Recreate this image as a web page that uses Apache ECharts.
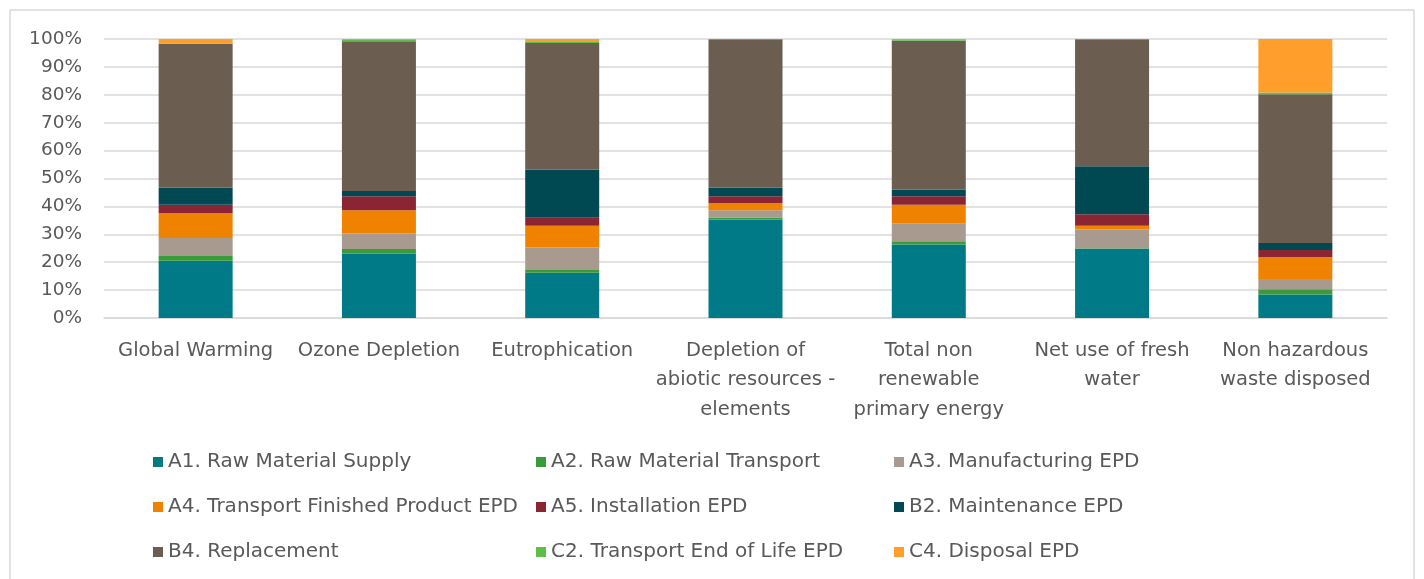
<!DOCTYPE html>
<html>
<head>
<meta charset="utf-8">
<script src="https://cdn.jsdelivr.net/npm/echarts@6/dist/echarts.min.js"></script>
<style>
  html, body { margin: 0; padding: 0; background: #fff; }
  #chart { width: 1424px; height: 579px; }
</style>
</head>
<body>
<div id="chart"></div>
<script>
// categories (wrapped as in the original)
const categories = [
    'Global Warming',
    'Ozone Depletion',
    'Eutrophication',
    'Depletion of\nabiotic resources -\nelements',
    'Total non\nrenewable\nprimary energy',
    'Net use of fresh\nwater',
    'Non hazardous\nwaste disposed'
];

// share of each stage, in %
const a1 = [20.5, 23.0, 16.2, 35.3, 26.3, 24.8, 8.4];
const a2 = [1.7, 1.7, 1.0, 0.6, 1.2, 0.2, 1.9];
const a3 = [6.5, 5.6, 8.1, 2.7, 6.5, 6.7, 3.7];
const a4 = [8.9, 8.3, 7.8, 2.6, 6.6, 1.4, 7.8];
const a5 = [3.0, 5.0, 2.8, 2.4, 3.0, 4.1, 2.6];
const b2 = [6.1, 1.9, 17.2, 3.1, 2.4, 17.2, 2.5];
const b4 = [51.6, 53.7, 45.5, 53.2, 53.4, 45.5, 53.3];
const c2 = [0.0, 0.7, 0.3, 0.0, 0.5, 0.0, 0.6];
const c4 = [1.7, 0.1, 1.1, 0.1, 0.1, 0.1, 19.2];

const yTicks = [0, 10, 20, 30, 40, 50, 60, 70, 80, 90, 100];

const seriesDefs = [
    { name: 'A1. Raw Material Supply', data: a1, color: '#007a87' },
    { name: 'A2. Raw Material Transport', data: a2, color: '#3a9b3a' },
    { name: 'A3. Manufacturing EPD', data: a3, color: '#a89a8e' },
    { name: 'A4. Transport Finished Product EPD', data: a4, color: '#ef8300' },
    { name: 'A5. Installation EPD', data: a5, color: '#8b2534' },
    { name: 'B2. Maintenance EPD', data: b2, color: '#004852' },
    { name: 'B4. Replacement', data: b4, color: '#6b5d50' },
    { name: 'C2. Transport End of Life EPD', data: c2, color: '#5cbf4a' },
    { name: 'C4. Disposal EPD', data: c4, color: '#ff9e2a' }
];

const font = '"DejaVu Sans", "Open Sans", sans-serif';
const textColor = '#595959';

const legendBase = {
    orient: 'vertical',
    icon: 'rect',
    itemWidth: 10,
    itemHeight: 10,
    itemGap: 25,
    top: 452,
    padding: 0,
    selectedMode: false,
    textStyle: { fontFamily: font, fontSize: 20, color: textColor }
};

const chart = echarts.init(document.getElementById('chart'));
chart.setOption({
    animation: false,
    textStyle: { fontFamily: font },
    graphic: [{
        type: 'rect',
        shape: { x: 10, y: 10, width: 1404, height: 600 },
        style: { fill: 'none', stroke: '#d9d9d9', lineWidth: 1.5 },
        silent: true
    }],
    grid: { left: 104, right: 37, top: 39, bottom: 261 },
    legend: [
        Object.assign({}, legendBase, { left: 153, data: [seriesDefs[0].name, seriesDefs[3].name, seriesDefs[6].name] }),
        Object.assign({}, legendBase, { left: 536, data: [seriesDefs[1].name, seriesDefs[4].name, seriesDefs[7].name] }),
        Object.assign({}, legendBase, { left: 894, data: [seriesDefs[2].name, seriesDefs[5].name, seriesDefs[8].name] })
    ],
    xAxis: {
        type: 'category',
        data: categories,
        axisLine: { lineStyle: { color: '#d9d9d9', width: 1.5 } },
        axisTick: { show: false },
        axisLabel: {
            interval: 0,
            margin: 18,
            fontFamily: font,
            fontSize: 19.5,
            lineHeight: 29.5,
            color: textColor
        }
    },
    yAxis: {
        type: 'value',
        min: 0,
        max: 100,
        interval: 10,
        axisLine: { show: false },
        axisTick: { show: false },
        splitLine: { lineStyle: { color: '#d9d9d9', width: 1.5 } },
        axisLabel: {
            margin: 22,
            fontFamily: font,
            fontSize: 18.5,
            color: textColor,
            formatter: v => yTicks.includes(v) ? v + '%' : ''
        }
    },
    series: seriesDefs.map(s => ({
        name: s.name,
        type: 'bar',
        stack: 'total',
        barWidth: 74,
        data: s.data,
        itemStyle: { color: s.color }
    }))
});
</script>
</body>
</html>
